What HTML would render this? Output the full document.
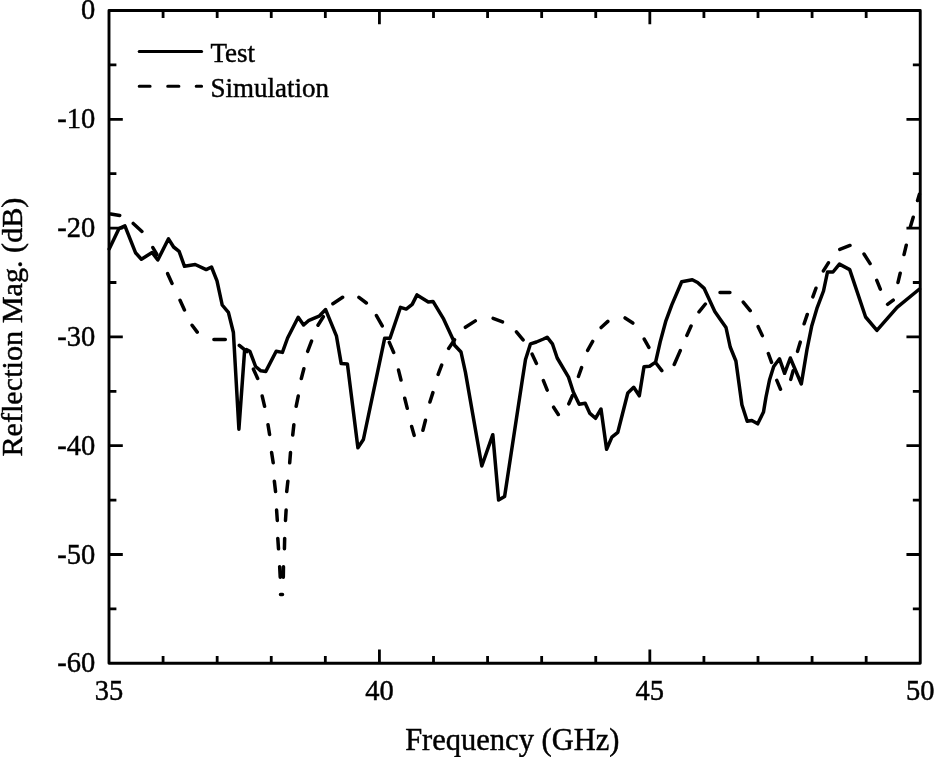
<!DOCTYPE html>
<html><head><meta charset="utf-8"><title>Reflection Magnitude</title>
<style>html,body{margin:0;padding:0;background:#fff;}svg{display:block;will-change:transform;}text{font-family:"Liberation Serif",serif;fill:#000;stroke:#000;stroke-width:0.45px;}</style></head><body>
<svg width="934" height="757" viewBox="0 0 934 757">
<rect width="934" height="757" fill="#fff"/>
<path d="M163.08 663.3V655.9M163.08 10.5V17.9M217.17 663.3V655.9M217.17 10.5V17.9M271.25 663.3V655.9M271.25 10.5V17.9M325.33 663.3V655.9M325.33 10.5V17.9M379.42 663.3V649.5M379.42 10.5V24.3M433.5 663.3V655.9M433.5 10.5V17.9M487.58 663.3V655.9M487.58 10.5V17.9M541.67 663.3V655.9M541.67 10.5V17.9M595.75 663.3V655.9M595.75 10.5V17.9M649.83 663.3V649.5M649.83 10.5V24.3M703.92 663.3V655.9M703.92 10.5V17.9M758 663.3V655.9M758 10.5V17.9M812.08 663.3V655.9M812.08 10.5V17.9M866.17 663.3V655.9M866.17 10.5V17.9M109 64.9H116.4M920.25 64.9H912.85M109 119.3H122.8M920.25 119.3H906.45M109 173.7H116.4M920.25 173.7H912.85M109 228.1H122.8M920.25 228.1H906.45M109 282.5H116.4M920.25 282.5H912.85M109 336.9H122.8M920.25 336.9H906.45M109 391.3H116.4M920.25 391.3H912.85M109 445.7H122.8M920.25 445.7H906.45M109 500.1H116.4M920.25 500.1H912.85M109 554.5H122.8M920.25 554.5H906.45M109 608.9H116.4M920.25 608.9H912.85" stroke="#000" stroke-width="2.8" fill="none"/>
<polyline points="109.2,249 118.9,228.7 124.9,225.9 135.5,252.7 141.4,259.2 152.1,252.5 157.8,260 168.5,238.8 173.6,247 179.1,251.3 184.5,266.3 195.2,264.5 206.2,269.6 211.5,267 217,280.8 222.2,305 228.4,312.4 233.4,332.5 238.9,429.2 244.6,350.5 246.4,349.5 249.8,351.2 255.6,366.5 260.8,370.8 265.8,371.4 276.2,351.2 282.4,352.4 287.6,338 298.2,317.3 303.6,325 309,320.3 319.1,316.2 325.6,309.6 336.4,335.8 341.2,363.6 347.4,363.9 357.9,447.8 363.4,439.5 384.7,338.2 390,338.2 400.5,307.3 406.2,309.1 412.2,304.4 417,294.9 428.3,302 433,301.4 443.7,319.2 453.3,340 454.4,345 461,352 465.5,372.6 481.8,466 492.8,434.7 498.6,500 504.6,496.6 522.3,380 525.5,359.5 530.5,343.8 536.4,342 543.5,339 547.1,337.2 552.4,343.8 557.2,358 568.5,377.1 573.3,392 579.2,404.2 585.2,403.3 589.9,413.4 595.5,418.3 601,409 606.6,449.3 611.9,437.1 617.8,432.3 627.8,393 633.7,387.3 639.3,395.8 644,366.8 649.6,366.3 655.6,362.1 660.2,341.9 665.9,320.8 671.8,304.9 681.7,281.8 692.3,279.8 697.6,282.5 704.2,288.4 714.8,311.5 720,319 726,327.5 730.2,347 735.9,361 741.9,404.7 747.2,421.2 751.8,420.5 757.7,423.8 763.5,412 766,397 769.5,380 773.7,366.5 779.5,358.8 784.6,373.3 790.3,358 801.3,384 807,349.5 811.6,326.6 817.2,307.6 823.5,291 827.5,272 833,272 839.4,264.1 849.7,269.6 865.6,317 876.9,330.3 897.1,307.3 919.5,289" fill="none" stroke="#000" stroke-width="3.5" stroke-linejoin="round" stroke-linecap="round"/>
<path d="M110.78 214L119.72 215.4M133.26 223.48L141.94 231.42M152.85 247.52L156.85 254.38M167.64 273.68L172.06 283.42M180.04 300.28L184.46 310.02M192.08 325.24L197.22 332.16M213.9 339.4L225.3 339.4M239.31 345.42L246.99 351.68M253.44 369.18L257.66 378.52M262.2 396.07L264.6 406.33M268.01 424.78L269.59 434.52M271.6 452.48L273.2 462.82M274.35 481.19L275.55 491.51M276.59 510L277.31 520.5M277.79 538.4L278.51 548.8M279.67 566.7L280.23 577.2M280.5 594.6L282.5 594.6M283.32 577.2L283.48 566.7M284.43 548.8L284.67 538.4M285.48 520.5L286.12 510M286.74 491.51L287.86 481.19M289.7 462.8L290.5 452.5M292.74 435.01L293.86 424.79M296.16 406.33L298.24 396.07M301.33 378.54L303.87 368.76M307.66 351.38L311.54 341.02M317.99 325.2L323.31 316.7M332.89 303.69L342.61 297.31M358.94 297.39L366.36 303.01M376.44 315.63L382.26 325.87M389.32 342.39L393.68 352.51M398.51 370.06L400.99 380.04M404.72 398.26L407.28 408.34M411.65 426.55L414.15 435.35M422.92 430.24L425.48 420.26M429.9 402.06L432.9 392.64M438.15 374.48L441.65 365.02M448.63 348.42L454.57 339.68M465.39 327.3L475.31 320.9M493.11 318.26L502.49 321.84M516.43 331.8L523.07 339.9M532.15 354.18L536.45 363.42M543.39 380.61L547.21 390.09M553.6 407.19L558.3 414.51M568.82 403.81L572.48 395.49M578.43 376.47L581.57 367.63M587.64 350.37L592.66 341.43M601.16 327.52L607.84 321.38M625.08 317.92L632.82 323.08M644.23 339.04L648.87 347.46M656.3 363.52L661.8 370.58M674.22 364.51L680.28 350.59M686.83 335.41L691.07 325.99M699.02 311.89L705.38 304.01M720 292.4L729.9 292.4M743.22 302.11L750.18 310.69M758.15 326.68L762.35 335.62M768.34 353.52L771.56 362.38M776.8 380.4L780.5 389.2M790.75 379.35L793.15 370.75M797.56 351.35L800.24 342.15M804.12 323.77L807.28 314.43M812.84 296.88L815.96 288.22M823.39 270.9L828.41 262.8M839.81 249.34L849.99 245.46M864 254L870.1 263.6M876.78 280.41L880.32 289.19M887.55 304.33L893.25 300.17M898 282.44L900.2 273.16M904.01 254.54L906.29 245.16M910.38 226.66L913.22 217.24M917.57 200.45L919.43 194.25" fill="none" stroke="#000" stroke-width="3.5" stroke-linecap="round"/>
<rect x="109" y="10.5" width="811.25" height="652.8" fill="none" stroke="#000" stroke-width="2.9" stroke-linejoin="round"/>
<path d="M139.2 51.4H201.6" stroke="#000" stroke-width="3" stroke-linecap="round"/>
<path d="M139.2 86.2H150.1M167.7 86.2H178.9M196.2 86.2H201.6" stroke="#000" stroke-width="3" stroke-linecap="round"/>
<text x="210.5" y="61.7" font-size="27">Test</text>
<text x="210.5" y="96.9" font-size="27">Simulation</text>
<text x="95.2" y="18.7" font-size="28.5" text-anchor="end">0</text>
<text x="95.2" y="128.4" font-size="28.5" text-anchor="end">-10</text>
<text x="95.2" y="237.2" font-size="28.5" text-anchor="end">-20</text>
<text x="95.2" y="346" font-size="28.5" text-anchor="end">-30</text>
<text x="95.2" y="454.8" font-size="28.5" text-anchor="end">-40</text>
<text x="95.2" y="563.6" font-size="28.5" text-anchor="end">-50</text>
<text x="95.2" y="672.4" font-size="28.5" text-anchor="end">-60</text>
<text x="109" y="700.3" font-size="28.5" text-anchor="middle">35</text>
<text x="379.42" y="700.3" font-size="28.5" text-anchor="middle">40</text>
<text x="649.83" y="700.3" font-size="28.5" text-anchor="middle">45</text>
<text x="920.25" y="700.3" font-size="28.5" text-anchor="middle">50</text>
<text x="512.3" y="749.9" font-size="30.5" text-anchor="middle">Frequency (GHz)</text>
<text transform="translate(21.8 327.1) rotate(-90)" font-size="30.2" text-anchor="middle">Reflection Mag. (dB)</text>
</svg></body></html>
